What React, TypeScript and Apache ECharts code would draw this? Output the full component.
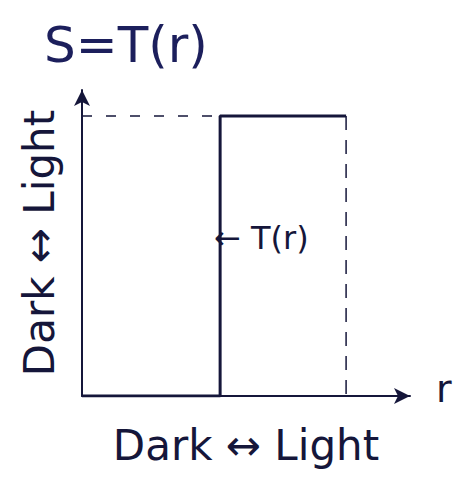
import React, { useEffect, useRef } from "react";
import * as echarts from "echarts";

// Thresholding transfer function s = T(r): dark below the threshold m, light above it.
const threshold = 0.523;
const rLevels = [0, threshold, threshold, 1];
const sLevels = [0, 0, 1, 1];
const guideTop = [[0, 1], [threshold, 1]];
const guideRight = [[1, 1], [1, 0]];
const axisText = "Dark \u2194 Light";

const INK = "#15163a";
const FONT = "'DejaVu Sans', sans-serif";

export default function App() {
  const ref = useRef<HTMLDivElement>(null);
  useEffect(() => {
    if (!ref.current) return;
    const chart = echarts.init(ref.current, undefined, { renderer: "svg" });
    const curve = rLevels.map((r, i) => [r, sLevels[i]]);
    const axisCommon = {
      type: "value" as const,
      min: 0,
      axisTick: { show: false },
      axisLabel: { show: false },
      splitLine: { show: false },
      axisLine: {
        show: true,
        symbol: ["none", "arrow"],
        symbolSize: [12, 16],
        lineStyle: { color: INK, width: 2 },
      },
    };
    chart.setOption({
      animation: false,
      backgroundColor: "#ffffff",
      grid: { left: 74, right: 66, top: 82, bottom: 95, outerBoundsMode: "none" },
      xAxis: {
        ...axisCommon,
        max: 1.242,
        name: axisText,
        nameLocation: "middle",
        nameGap: 28,
        nameTextStyle: { color: INK, fontSize: 42, fontFamily: FONT },
      },
      yAxis: {
        ...axisCommon,
        max: 1.093,
        name: axisText,
        nameLocation: "middle",
        nameGap: 22,
        nameTextStyle: { color: INK, fontSize: 42, fontFamily: FONT },
      },
      series: [
        {
          type: "line",
          data: curve,
          symbol: "none",
          lineStyle: { color: INK, width: 3 },
        },
        {
          type: "line",
          data: guideTop,
          symbol: "none",
          lineStyle: { color: INK, width: 1.5, type: [10, 14] },
        },
        {
          type: "line",
          data: guideRight,
          symbol: "none",
          lineStyle: { color: INK, width: 1.5, type: [14, 10] },
        },
      ],
      graphic: [
        {
          type: "text",
          left: 36,
          top: 12,
          style: { text: "S=T(r)", fill: "#1c1f5c", fontSize: 50, fontFamily: FONT },
        },
        {
          type: "text",
          left: 428,
          top: 362,
          style: { text: "r", fill: INK, fontSize: 38, fontFamily: FONT },
        },
        {
          type: "text",
          left: 206,
          top: 214,
          style: { text: "\u2190 T(r)", fill: INK, fontSize: 32, fontFamily: FONT },
        },
      ],
    });
    return () => chart.dispose();
  }, []);
  return <div ref={ref} style={{ width: 468, height: 483 }} />;
}
